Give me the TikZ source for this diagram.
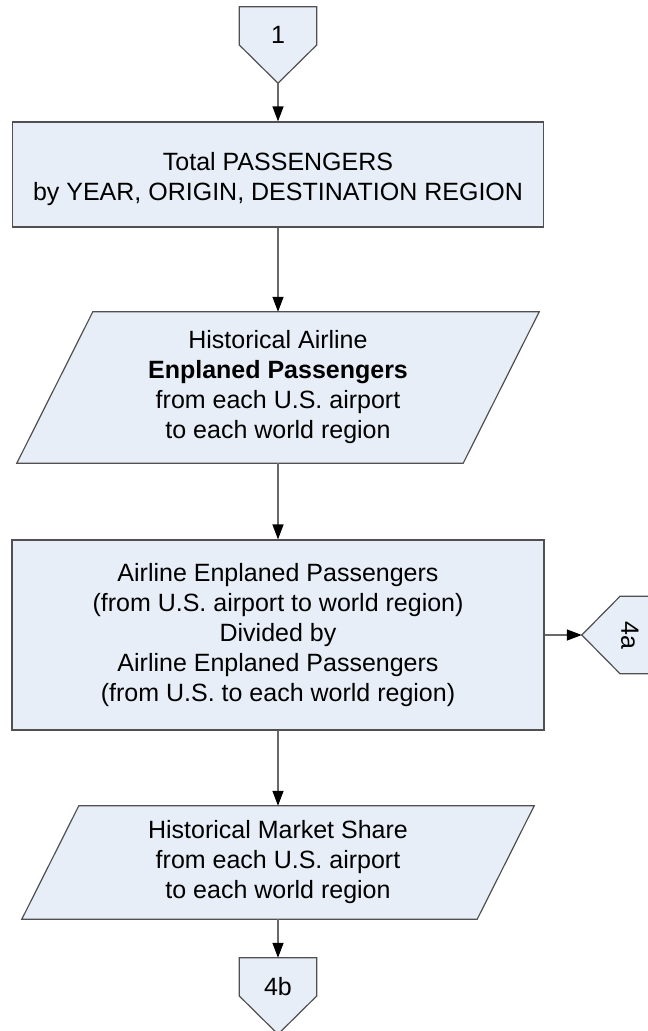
\documentclass[tikz,border=0pt]{standalone}
\usepackage{fontspec}
\setmainfont{Liberation Sans}
\usetikzlibrary{calc,backgrounds,arrows.meta}
\definecolor{boxfill}{RGB}{232,238,247}
\definecolor{boxline}{RGB}{80,80,80}
\definecolor{wire}{RGB}{105,105,105}
\begin{document}
\begin{tikzpicture}[x=1pt,y=-1pt,
  txt/.style={font=\fontsize{25}{30}\selectfont, align=center, inner sep=0pt},
  procbox/.style={txt, draw=boxline, fill=boxfill, line width=1.2pt},
  datafield/.style={txt},
  offpage/.style={txt, minimum width=77pt, minimum height=76pt, text depth=20pt},
  shapeline/.style={draw=boxline, fill=boxfill, line width=1.2pt, line join=miter},
  flow/.style={draw=wire, line width=1.3pt,
    -{Triangle[length=15pt,width=11pt,color=black]}}
]
\useasboundingbox (0,0) rectangle (648,1031);

% text carriers and process boxes
\node[offpage] (c1) at (278,45) {1};
\node[procbox, minimum width=531pt, minimum height=105pt] (b1) at (278,174.5)
  {\rule{0pt}{28pt}Total PASSENGERS\\by YEAR, ORIGIN, DESTINATION REGION};
\node[datafield, minimum width=522pt, minimum height=151pt] (p1) at (278,387.5)
  {Historical Airline\\\textbf{Enplaned Passengers}\\from each U.S. airport\\to each world region};
\node[procbox, minimum width=532pt, minimum height=190pt] (b2) at (278,635)
  {Airline Enplaned Passengers\\(from U.S. airport to world region)\\Divided by\\Airline Enplaned Passengers\\(from U.S. to each world region)};
\node[offpage, rotate=-90] (c4a) at (620,635) {4a};
\node[datafield, minimum width=512pt, minimum height=113pt] (p2) at (278,862.5)
  {Historical Market Share\\from each U.S. airport\\to each world region};
\node[offpage] (c4b) at (278,996) {4b};

% outlines of off-page connectors and data parallelograms
\begin{scope}[on background layer]
  \foreach \c in {c1,c4a,c4b}
    \path[shapeline] (\c.north west) -- (\c.north east) -- (\c.east)
      -- (\c.south) -- (\c.west) -- cycle;
  \path[shapeline] ($(p1.north west)+(76,0)$) -- (p1.north east)
    -- ($(p1.south east)-(76,0)$) -- (p1.south west) -- cycle;
  \path[shapeline] ($(p2.north west)+(57,0)$) -- (p2.north east)
    -- ($(p2.south east)-(57,0)$) -- (p2.south west) -- cycle;
\end{scope}

% flow connectors
\draw[flow] (c1.south) -- (b1.north);
\draw[flow] (b1.south) -- (p1.north);
\draw[flow] (p1.south) -- (b2.north);
\draw[flow] (b2.east) -- (c4a.south);
\draw[flow] (b2.south) -- (p2.north);
\draw[flow] (p2.south) -- (c4b.north);
\end{tikzpicture}
\end{document}
